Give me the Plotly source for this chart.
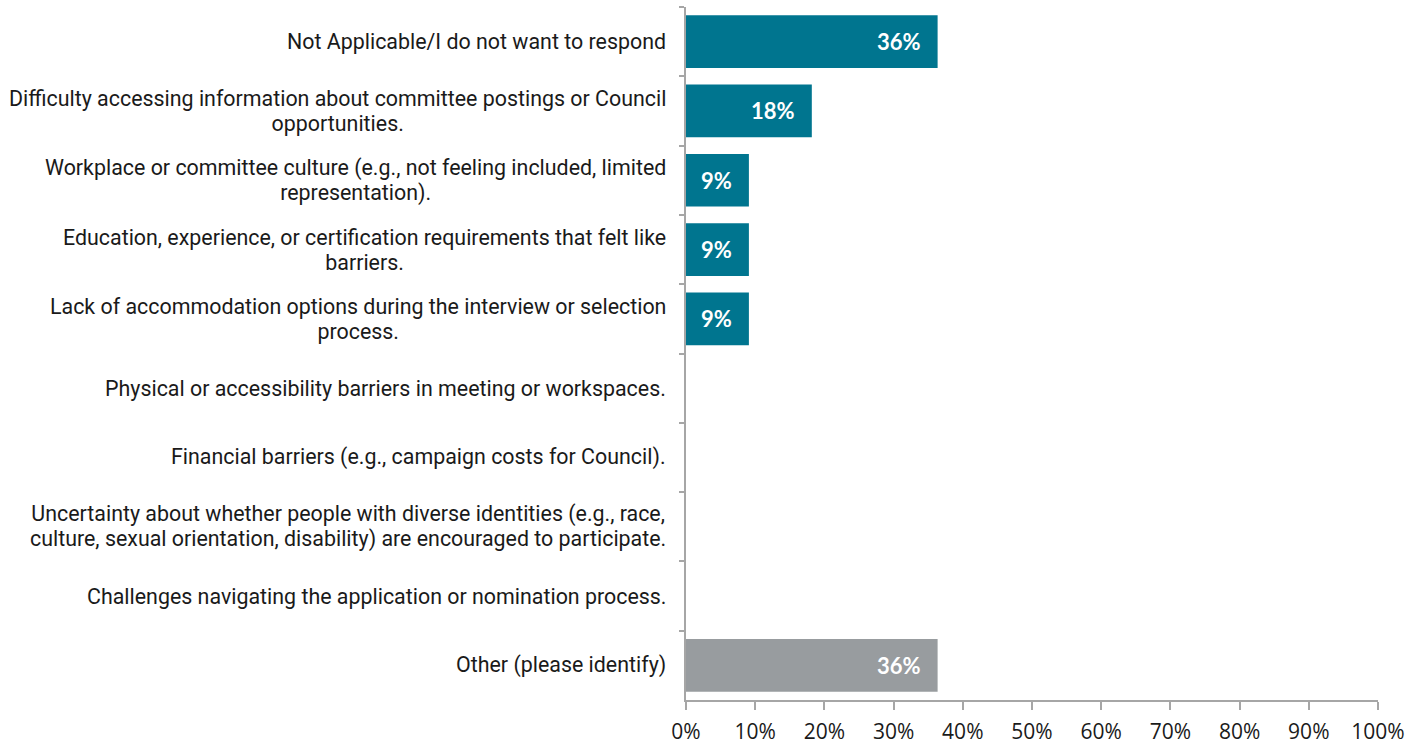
import plotly.graph_objects as go

categories = [
    "Not Applicable/I do not want to respond",
    "Difficulty accessing information about committee postings or Council<br>opportunities.",
    "Workplace or committee culture (e.g., not feeling included, limited<br>representation).",
    "Education, experience, or certification requirements that felt like<br>barriers.",
    "Lack of accommodation options during the interview or selection<br>process.",
    "Physical or accessibility barriers in meeting or workspaces.",
    "Financial barriers (e.g., campaign costs for Council).",
    "Uncertainty about whether people with diverse identities (e.g., race,<br>culture, sexual orientation, disability) are encouraged to participate.",
    "Challenges navigating the application or nomination process.",
    "Other (please identify)",
]
percent = [36.36, 18.18, 9.09, 9.09, 9.09, 0, 0, 0, 0, 36.36]

x_ticks = [i / 10 for i in range(11)]

TEAL = "#00758f"
GREY = "#989c9f"
AXIS = "#a6a6a6"

keys = [f"c{i}" for i in range(len(categories))]
colors = [GREY if c.startswith("Other") else TEAL for c in categories]

fig = go.Figure(
    go.Bar(
        y=keys,
        x=[p / 100 for p in percent],
        orientation="h",
        marker=dict(color=colors, line=dict(width=0)),
        width=0.76,
        hoverinfo="skip",
    )
)


def styled(label, size):
    # larger glyphs on a tighter line pitch
    return "<br>".join(
        f'<span style="font-size:{size}px">{part}</span>' for part in label.split("<br>")
    )


annotations = []
# category labels, centred multi-line text right-aligned against the axis
for k, label in zip(keys, categories):
    annotations.append(dict(
        x=0, xref="paper", y=k, yref="y",
        text=styled(label, 21.4), showarrow=False,
        xanchor="right", yanchor="middle", align="center",
        xshift=-18,
        font=dict(family="Roboto", size=19.2, color="#1a1a1a"),
    ))
# value labels inside bar ends
for k, p in zip(keys, percent):
    if p > 0:
        annotations.append(dict(
            x=p / 100, xref="x", y=k, yref="y",
            text=f"{round(p)}%", showarrow=False,
            xanchor="right", yanchor="middle",
            xshift=-15,
            font=dict(family="Lato", size=22, color="white", weight="bold"),
        ))

fig.update_layout(
    width=1426, height=747,
    margin=dict(l=686, r=48, t=7, b=47),
    paper_bgcolor="white", plot_bgcolor="white",
    showlegend=False,
    bargap=0.24,
    annotations=annotations,
    xaxis=dict(
        range=[0, 1],
        tickvals=x_ticks,
        tickformat=".0%",
        ticks="outside", ticklen=8, tickwidth=2, tickcolor=AXIS,
        ticklabelstandoff=4,
        showline=True, linecolor=AXIS, linewidth=2,
        showgrid=False, zeroline=False,
        automargin=False,
        tickfont=dict(family="Open Sans", size=21, color="#1a1a1a"),
        fixedrange=True,
    ),
    yaxis=dict(
        categoryorder="array", categoryarray=keys,
        autorange="reversed",
        showticklabels=False,
        tickson="boundaries",
        ticks="outside", ticklen=5, tickwidth=2, tickcolor=AXIS,
        showline=True, linecolor=AXIS, linewidth=2,
        showgrid=False, zeroline=False,
        automargin=False,
        fixedrange=True,
    ),
)

fig.write_html("out.html")
